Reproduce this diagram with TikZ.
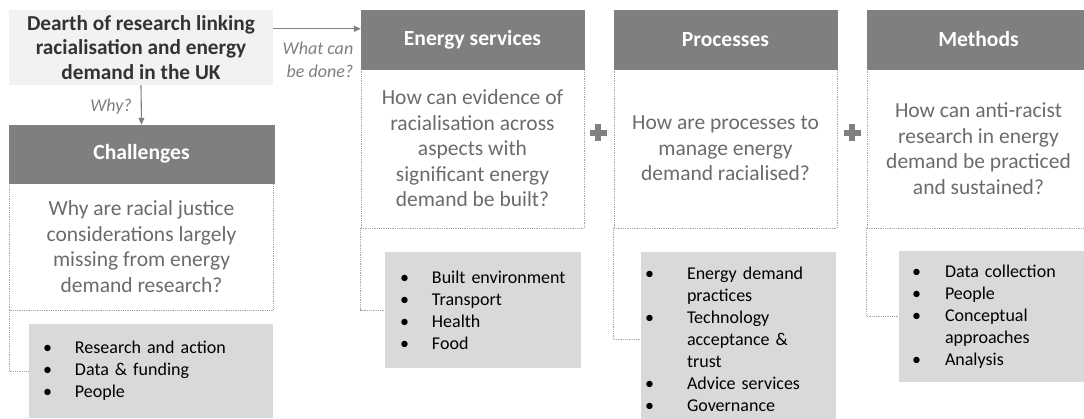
\documentclass[tikz,border=0pt]{standalone}
\usepackage{fontspec}
\setmainfont{Carlito}
\usetikzlibrary{arrows.meta}

\definecolor{hdr}{HTML}{7F7F7F}
\definecolor{lst}{HTML}{D9D9D9}
\definecolor{topbg}{HTML}{F2F2F2}
\definecolor{qtxt}{HTML}{6B6B6B}
\definecolor{dotc}{HTML}{A6A6A6}
\definecolor{darktxt}{HTML}{333333}

% bullet item: bullet in a fixed-width box, then the text
\newcommand\bitem[2][32pt]{\makebox[#1][l]{•}#2}
\newcommand\bcont[2][32pt]{\hspace*{#1}#2}

\begin{document}
\begin{tikzpicture}[x=1pt,y=-1pt,
  header/.style={fill=hdr, draw=hdr, text=white, inner sep=0pt,
    font=\fontsize{21.6}{25}\selectfont\bfseries},
  question/.style={draw=dotc, densely dotted, line width=0.8pt, text=qtxt,
    inner sep=0pt, align=center, font=\fontsize{21.5}{25.5}\selectfont},
  listbox/.style={fill=lst, inner ysep=0pt, align=left,
    font=\fontsize{18}{22}\selectfont},
  topbox/.style={fill=topbg, inner sep=0pt, align=center, text=darktxt,
    font=\fontsize{21.3}{24.5}\selectfont\bfseries},
  lbl/.style={text=hdr, inner sep=0pt, font=\fontsize{18}{23}\selectfont\itshape},
  arr/.style={draw=hdr, line width=1.1pt, -{Triangle[length=7pt,width=6pt]}},
  conn/.style={draw=dotc, densely dotted, line width=0.8pt},
  plus/.pic={\fill[hdr] (-8.5,-3) rectangle (8.5,3);
             \fill[hdr] (-3,-8.5) rectangle (3,8.5);}
]
\useasboundingbox (0,0) rectangle (1084,419);

% starting statement
\node[topbox, minimum width=264pt, minimum height=75pt] (dearth) at (141,47.5)
  {Dearth of research linking\\racialisation and energy\\demand in the UK};

% ---- Challenges column ----
\node[question, minimum width=264pt, minimum height=127pt] (chq) at (141.5,246.5)
  {Why are racial justice\\considerations largely\\missing from energy\\demand research?};
\node[header, minimum width=265pt, minimum height=58pt] (chh) at (141.5,154) {Challenges};
\node[listbox, inner xsep=14pt, text width=216pt, minimum height=94pt] (chl) at (151,371)
  {\bitem{Research and action}\\\bitem{Data \& funding}\\\bitem{People}};

% ---- Energy services column ----
\node[question, minimum width=223pt, minimum height=159pt] (esq) at (472.5,148.5)
  {How can evidence of\\racialisation across\\aspects with\\significant energy\\demand be built?};
\node[header, minimum width=223pt, minimum height=59pt] (esh) at (472.5,39.5) {Energy services};
\node[listbox, inner xsep=15pt, text width=166pt, minimum height=116pt] (esl) at (483,310)
  {\bitem{Built environment}\\\bitem{Transport}\\\bitem{Health}\\\bitem{Food}};

% ---- Processes column ----
\node[question, minimum width=223pt, minimum height=159pt] (prq) at (725.5,148.5)
  {How are processes to\\manage energy\\demand racialised?};
\node[header, minimum width=223pt, minimum height=59pt] (prh) at (725.5,39.5) {Processes};
\node[listbox, inner xsep=4pt, text width=187pt, minimum height=175pt] (prl) at (738.5,339.5)
  {\bitem[42pt]{Energy demand}\\\bcont[42pt]{practices}\\\bitem[42pt]{Technology}\\
   \bcont[42pt]{acceptance \&}\\\bcont[42pt]{trust}\\\bitem[42pt]{Advice services}\\
   \bitem[42pt]{Governance}};

% ---- Methods column ----
\node[question, minimum width=223pt, minimum height=159pt] (meq) at (978.5,148.5)
  {How can anti-racist\\research in energy\\demand be practiced\\and sustained?};
\node[header, minimum width=223pt, minimum height=59pt] (meh) at (978.5,39.5) {Methods};
\node[listbox, inner xsep=13pt, text width=163pt, minimum height=131pt] (mel) at (993.5,316.5)
  {\bitem[33pt]{Data collection}\\\bitem[33pt]{People}\\\bitem[33pt]{Conceptual}\\
   \bcont[33pt]{approaches}\\\bitem[33pt]{Analysis}};

% dotted elbows from each question box to its list
\draw[conn] (chq.south west) |- (chl.west);
\draw[conn] (esq.south west) |- (esl.west);
\draw[conn] (prq.south west) |- (prl.west);
\draw[conn] (meq.south west) |- (mel.west);

% arrows out of the starting statement
\draw[arr] ([yshift=-19pt]dearth.north east) coordinate (a0) -- (a0 -| esh.west);
\draw[arr] (dearth.south) -- (chh.north);
\node[lbl, align=right] (wcd) at (318,60) {What can\\be done?};
\node[lbl] (why) at (111,107) {Why?};

% plus signs between the columns
\pic at (598,133) {plus};
\pic at (852,133) {plus};
\end{tikzpicture}
\end{document}
